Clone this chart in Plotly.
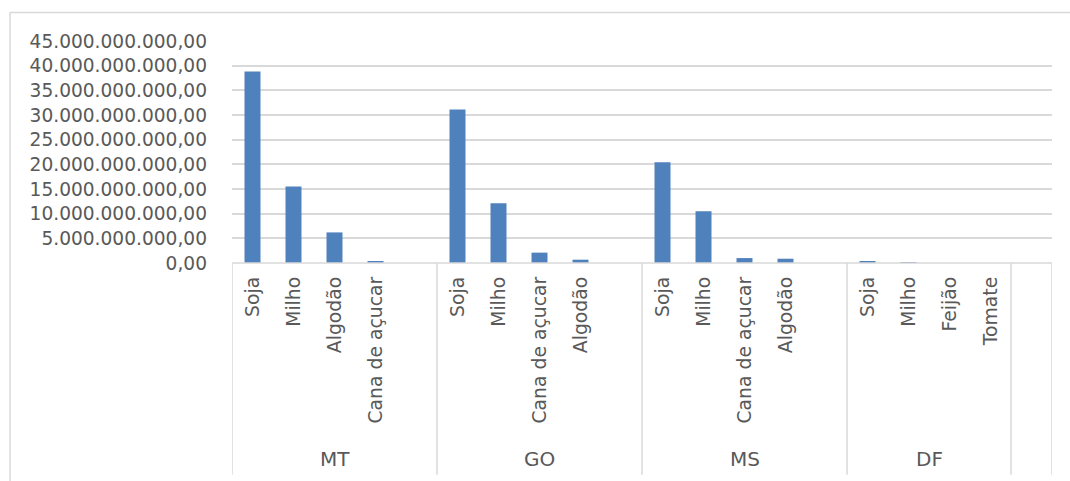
import plotly.graph_objects as go

groups = ["MT", "GO", "MS", "DF"]
crops = [
    ["Soja", "Milho", "Algodão", "Cana de açucar"],
    ["Soja", "Milho", "Cana de açucar", "Algodão"],
    ["Soja", "Milho", "Cana de açucar", "Algodão"],
    ["Soja", "Milho", "Feijão", "Tomate"],
]
values = [
    [38.8e9, 15.5e9, 6.2e9, 0.35e9],
    [31.1e9, 12.1e9, 2.1e9, 0.67e9],
    [20.4e9, 10.5e9, 1.0e9, 0.87e9],
    [0.30e9, 0.05e9, 0.0, 0.0],
]
# slots per group (Excel sheet had a blank row after each of the first three states and after DF)
slots = [5, 5, 5, 4, 1]
y_ticks = [0, 5e9, 10e9, 15e9, 20e9, 25e9, 30e9, 35e9, 40e9, 45e9]
y_tick_labels = ["0,00", "5.000.000.000,00", "10.000.000.000,00", "15.000.000.000,00",
                 "20.000.000.000,00", "25.000.000.000,00", "30.000.000.000,00",
                 "35.000.000.000,00", "40.000.000.000,00", "45.000.000.000,00"]

xs, ys, labels = [], [], []
starts = []
pos = 0
for gi, n in enumerate(slots):
    starts.append(pos)
    if gi < len(groups):
        for ci, (c, v) in enumerate(zip(crops[gi], values[gi])):
            xs.append(pos + ci)
            ys.append(v)
            labels.append(c)
    pos += n
total = pos

TXT = "#595959"
GRID = "#D9D9D9"
FONT = "DejaVu Sans"

fig = go.Figure()
fig.add_trace(go.Bar(x=xs, y=ys, width=0.39, marker=dict(color="#4F81BD", line=dict(width=0)),
                     hoverinfo="skip"))

W, H = 1070, 481
L, R, T, B = 232, 1052, 40.7, 263.3
pw, ph = R - L, B - T

def px(xp):
    return (xp - L) / pw

def py(yp):
    return (B - yp) / ph

shapes = []
# outer chart border (top and left visible)
shapes.append(dict(type="line", xref="paper", yref="paper", x0=px(10), x1=px(1075), y0=py(12), y1=py(12),
                   line=dict(color=GRID, width=1.5)))
shapes.append(dict(type="line", xref="paper", yref="paper", x0=px(10), x1=px(10), y0=py(12), y1=py(485),
                   line=dict(color=GRID, width=1.5)))
# category axis line
shapes.append(dict(type="line", xref="paper", yref="paper", x0=0, x1=1, y0=0, y1=0,
                   line=dict(color=GRID, width=1.5)))
# group dividers
bounds = starts + [total]
for b in bounds:
    shapes.append(dict(type="line", xref="x", yref="paper", x0=b - 0.5, x1=b - 0.5, y0=0, y1=py(475.7),
                       line=dict(color=GRID, width=1.5)))

annotations = []
for gi, g in enumerate(groups):
    center = starts[gi] + (slots[gi] - 1) / 2
    annotations.append(dict(x=center, y=py(460), xref="x", yref="paper", text=g, showarrow=False,
                            xanchor="center", yanchor="middle", font=dict(family=FONT, size=20, color=TXT)))

fig.update_layout(
    width=W, height=H,
    margin=dict(l=L, r=W - R, t=T, b=H - B),
    paper_bgcolor="white", plot_bgcolor="white",
    showlegend=False,
    bargap=0.61,
    shapes=shapes,
    annotations=annotations,
    xaxis=dict(range=[-0.5, total - 0.5], tickvals=xs, ticktext=labels, tickangle=-90,
               showgrid=False, zeroline=False, showline=False, ticks="",
               ticklabelstandoff=9,
               tickfont=dict(family=FONT, size=18.8, color=TXT)),
    yaxis=dict(range=[0, 45e9], tickvals=y_ticks, ticktext=y_tick_labels,
               showgrid=True, gridcolor=GRID, gridwidth=1.5, zeroline=False, showline=False, ticks="",
               ticklabelstandoff=24,
               tickfont=dict(family=FONT, size=18.6, color=TXT)),
)

fig.write_html("out.html")
